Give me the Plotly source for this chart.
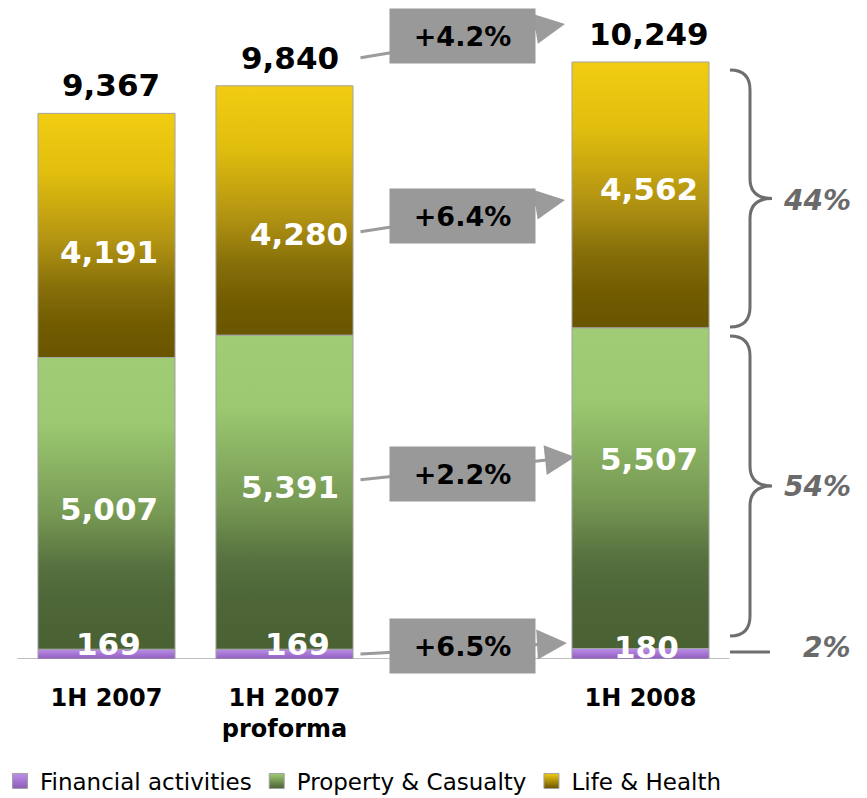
import plotly.graph_objects as go

# ---- data -------------------------------------------------------------
periods = ["1H 2007", "1H 2007<br>proforma", "1H 2008"]
period_pos = [0, 1, 3]                      # slot 2 is left empty for the growth boxes
financial = [169, 169, 180]
property_casualty = [5007, 5391, 5507]
life_health = [4191, 4280, 4562]
totals = [9367, 9840, 10249]
growth_labels = ["+4.2%", "+6.4%", "+2.2%", "+6.5%"]   # total, L&H, P&C, financial
mix_labels = ["44%", "54%", "2%"]                       # 1H 2008 mix: L&H, P&C, financial

series_names = ["Financial activities", "Property & Casualty", "Life & Health"]
series_values = [financial, property_casualty, life_health]

# ---- styling ----------------------------------------------------------
FONT = "DejaVu Sans"
BAR_W = 0.77
OUTLINE = "#a3a3a3"
ARROW_C = "#9b9b9b"
BRACE_C = "#6e6e6e"
gradients = [
    [[0, "#8f5cba"], [0.5, "#a675d3"], [1, "#bb90e8"]],
    [[0, "#4a6134"], [0.15, "#4d6537"], [0.28, "#56703f"], [0.46, "#769853"],
     [0.77, "#9bc870"], [1, "#a0cc75"]],
    [[0, "#6a5500"], [0.14, "#725c00"], [0.29, "#87700a"], [0.48, "#b39412"],
     [0.76, "#e2bf0e"], [1, "#f1cc12"]],
]

# axis geometry: plot area spans the full width, bottom of plot area is the baseline
W, H = 867, 798
PLOT_H = 659
X_RANGE = [-0.5983, 4.2725]
Y_RANGE = [0, 11313]


def px_x(px):
    return X_RANGE[0] + px / W * (X_RANGE[1] - X_RANGE[0])


def px_y(py):
    return Y_RANGE[1] - py / PLOT_H * (Y_RANGE[1] - Y_RANGE[0])


fig = go.Figure()

# ---- stacked bars with vertical gradient fills -------------------------
bottoms = [0, 0, 0]
for s, (name, vals) in enumerate(zip(series_names, series_values)):
    for i, (xc, v) in enumerate(zip(period_pos, vals)):
        b = bottoms[i]
        t = b + v
        x0, x1 = xc - BAR_W / 2, xc + BAR_W / 2
        fig.add_trace(go.Scatter(
            x=[x0, x1, x1, x0, x0], y=[b, b, t, t, b],
            mode="lines", fill="toself",
            fillgradient=dict(type="vertical", colorscale=gradients[s], start=b, stop=t),
            line=dict(color=OUTLINE, width=1),
            hoverinfo="skip", showlegend=False,
        ))
        bottoms[i] = t

# legend entries
for name, grad in zip(series_names, gradients):
    fig.add_trace(go.Scatter(
        x=[None], y=[None], mode="markers", name=name,
        marker=dict(symbol="square", size=15, color=grad[-1][1],
                    gradient=dict(type="vertical", color=grad[0][1]),
                    line=dict(color="#a0a0a0", width=1)),
    ))

# ---- value labels ------------------------------------------------------
label_shift = {  # vertical nudges (px) of segment labels, per series then period
    0: [10, 10, 7],
    1: [-6, 5, 29],
    2: [-17, -24, 6],
}
label_xshift = {0: [2, 13, 6], 1: [2, 5, 8], 2: [2, 14, 8]}
bottoms = [0, 0, 0]
for s, vals in enumerate(series_values):
    for i, (xc, v) in enumerate(zip(period_pos, vals)):
        mid = bottoms[i] + v / 2
        fig.add_annotation(
            x=xc, y=mid, text=f"{v:,}", showarrow=False,
            xshift=label_xshift[s][i], yshift=label_shift[s][i],
            font=dict(family=FONT, size=31, color="white", weight="bold"),
        )
        bottoms[i] += v

for xc, tot, xs in zip(period_pos, totals, [4, 5, 8]):
    fig.add_annotation(
        x=xc, y=tot, text=f"{tot:,}", showarrow=False, yanchor="middle",
        xshift=xs, yshift=28,
        font=dict(family=FONT, size=31, color="black", weight="bold"),
    )

# ---- growth arrows and boxes -------------------------------------------
arrows = [  # (tail px, tip px)
    ((359, 58), (565, 24)),
    ((359, 232), (565, 200)),
    ((359, 480), (575, 457)),
    ((359, 654), (567, 643)),
]
for (tx, ty), (hx, hy) in arrows:
    fig.add_annotation(
        x=px_x(hx), y=px_y(hy), ax=px_x(tx), ay=px_y(ty),
        xref="x", yref="y", axref="x", ayref="y",
        text="", showarrow=True, arrowhead=2, arrowsize=2,
        arrowwidth=3, arrowcolor=ARROW_C,
    )

box_centres_py = [36, 215.5, 473.5, 646]
for txt, py in zip(growth_labels, box_centres_py):
    fig.add_annotation(
        x=2, y=px_y(py), text=txt, showarrow=False,
        width=145, height=54, bgcolor="#999999", borderpad=0,
        font=dict(family=FONT, size=27, color="black", weight="bold"),
    )

# ---- braces and mix percentages ----------------------------------------
def brace_path(top, bottom, x0=730, spine=750, tip=772, r=20):
    mid = (top + bottom) / 2
    pts = [
        ("M", [(x0, top)]),
        ("Q", [(spine, top), (spine, top + r)]),
        ("L", [(spine, mid - r)]),
        ("Q", [(spine, mid), (tip, mid)]),
        ("Q", [(spine, mid), (spine, mid + r)]),
        ("L", [(spine, bottom - r)]),
        ("Q", [(spine, bottom), (x0, bottom)]),
    ]
    out = []
    for cmd, coords in pts:
        out.append(cmd + " ".join(f"{px_x(a):.5f},{px_y(b):.3f}" for a, b in coords))
    return " ".join(out)


for top, bottom in [(70, 327), (336, 636)]:
    fig.add_shape(type="path", path=brace_path(top, bottom), xref="x", yref="y",
                  line=dict(color=BRACE_C, width=3))

fig.add_shape(type="line", xref="x", yref="y",
              x0=px_x(730), x1=px_x(770), y0=px_y(652), y1=px_y(652),
              line=dict(color=BRACE_C, width=3))

for txt, py in zip(mix_labels, [200, 486, 647]):
    fig.add_annotation(
        x=px_x(853), y=px_y(py), text=f"<i>{txt}</i>", showarrow=False,
        xanchor="right",
        font=dict(family=FONT, size=28, color="#6a6a6a", weight="bold"),
    )

# baseline
fig.add_shape(type="line", xref="x", yref="y", x0=-0.5, x1=3.5, y0=0, y1=0,
              line=dict(color="#a8a8a8", width=1.5), layer="below")

fig.update_layout(
    width=W, height=H,
    margin=dict(l=0, r=0, t=0, b=H - PLOT_H, autoexpand=False),
    paper_bgcolor="white", plot_bgcolor="white",
    showlegend=True,
    legend=dict(orientation="h", x=0, xanchor="left",
                yref="container", y=(H - 781) / H, yanchor="middle",
                font=dict(family=FONT, size=23, color="black"),
                itemclick=False, itemdoubleclick=False),
    xaxis=dict(range=X_RANGE, tickvals=period_pos, ticktext=periods,
               showgrid=False, zeroline=False, showline=False, ticks="",
               ticklabelstandoff=22, automargin=False,
               tickfont=dict(family=FONT, size=24, color="black", weight="bold"),
               fixedrange=True),
    yaxis=dict(range=Y_RANGE, visible=False, fixedrange=True, automargin=False),
)

fig.write_html("out.html")
